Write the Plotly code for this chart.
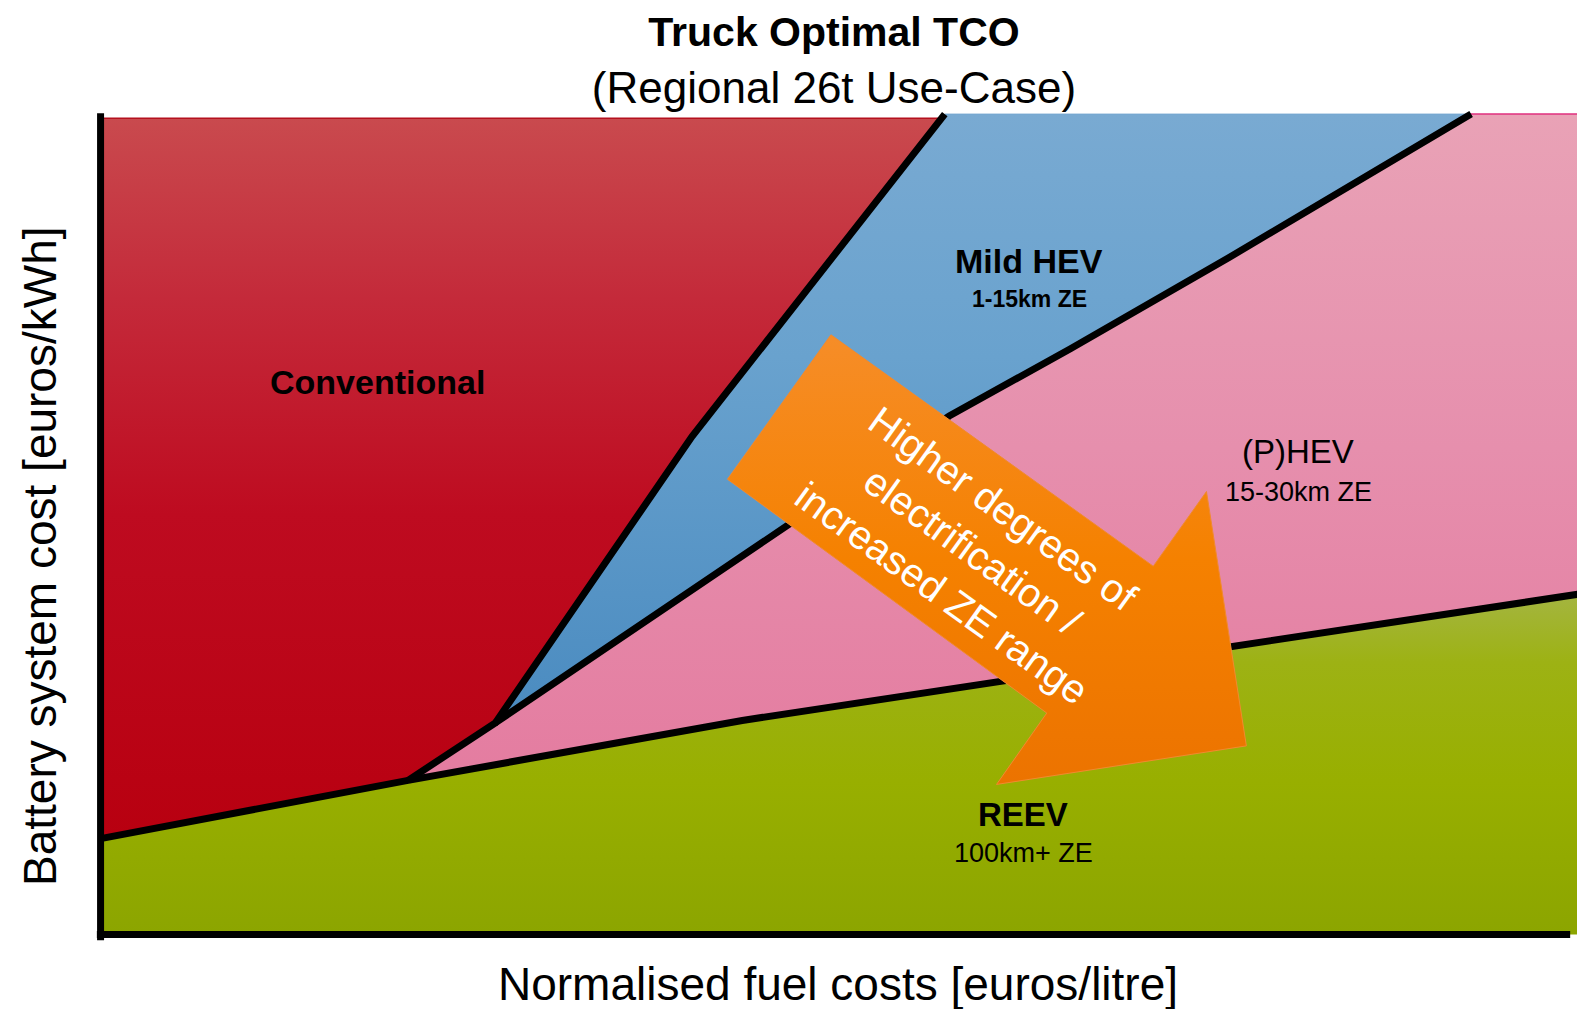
import plotly.graph_objects as go

# ---- Data (normalised units: fuel cost on x, battery system cost on y, 0-100) ----
# Boundary between REEV and the rest
reev_x = [0, 20.8, 43.4, 100]
reev_y = [11.7, 18.8, 26.1, 41.5]
# Boundary Conventional | electrified (starts at REEV kink)
conv_x = [20.8, 26.7, 40.0, 50.3, 57.1]
conv_y = [18.8, 25.8, 60.7, 84.3, 100]
# Boundary Mild HEV | (P)HEV (starts at conventional kink)
mild_x = [26.7, 40.5, 57.4, 65.6, 76.3, 92.7]
mild_y = [25.8, 42.6, 63.2, 71.4, 82.5, 100]
Y_TOP = 100
RED_TOP = 99.5
X_RIGHT = 100

# Direction arrow outline (tail -> head -> tip)
arrow_x = [49.4, 71.2, 74.8, 77.5, 60.6, 64.0, 42.4]
arrow_y = [73.1, 44.9, 54.0, 23.0, 18.3, 27.0, 55.5]

region_labels = ["Conventional", "Mild HEV", "(P)HEV", "REEV"]
region_sub = ["", "1-15km ZE", "15-30km ZE", "100km+ ZE"]
label_x = [18.7, 62.8, 81.0, 62.4]
label_y = [67.4, 82.1, 58.9, 14.6]
sub_y = [None, 77.5, 54.0, 9.9]

arrow_text = ["Higher degrees of", "electrification /", "increased ZE range"]

FONT = "Liberation Sans, Arial, sans-serif"

fig = go.Figure()

def area(xs, ys, scale, ymin, ymax, line_color=None, lw=0):
    fig.add_trace(go.Scatter(
        x=xs, y=ys, mode="lines", fill="toself",
        fillgradient=dict(type="vertical", colorscale=scale, start=ymin, stop=ymax),
        line=dict(color=line_color or "rgba(0,0,0,0)", width=lw),
        hoverinfo="skip", showlegend=False))

# Green (REEV)
gx = [0] + reev_x + [X_RIGHT]
gy = [0] + reev_y + [0]
area(gx, gy, [[0, "#8CA500"], [0.45, "#98AF00"], [0.8, "#9DB214"], [1, "#A4B540"]],
     0, reev_y[-1], "#A8BB30", 1.2)

# Red (Conventional)
rx = [0, reev_x[1]] + conv_x[1:] + [0]
ry = [reev_y[0], reev_y[1]] + [min(v, RED_TOP) for v in conv_y[1:]] + [RED_TOP]
area(rx, ry, [[0, "#B80010"], [0.45, "#BE0B20"], [0.75, "#C42A3A"], [1, "#C94A4E"]],
     reev_y[0], RED_TOP, "#B5101E", 1.5)

# Blue (Mild HEV)
bx = conv_x[1:] + [mild_x[-1]] + mild_x[::-1]
by = conv_y[1:] + [Y_TOP] + mild_y[::-1]
area(bx, by, [[0, "#4A8BC0"], [0.6, "#69A2CE"], [1, "#79AAD2"]],
     conv_y[1], Y_TOP, "#74A7D0", 1)

# Pink ((P)HEV)
px_ = [conv_x[0]] + mild_x + [X_RIGHT, X_RIGHT, reev_x[2], conv_x[0]]
py_ = [conv_y[0]] + mild_y + [Y_TOP, reev_y[-1], reev_y[2], conv_y[0]]
area(px_, py_, [[0, "#E47CA0"], [0.5, "#E68FAD"], [1, "#E9A2B6"]],
     conv_y[0], Y_TOP, "#E0307F", 1.5)

# Black boundary lines
for xs, ys in [(reev_x, reev_y), (conv_x, conv_y), (mild_x, mild_y)]:
    fig.add_trace(go.Scatter(x=xs, y=ys, mode="lines",
                             line=dict(color="black", width=7),
                             hoverinfo="skip", showlegend=False))

# Orange arrow
area(arrow_x + [arrow_x[0]], arrow_y + [arrow_y[0]],
     [[0, "#EC7300"], [0.5, "#F58100"], [1, "#F68D28"]],
     min(arrow_y), max(arrow_y), "#F08A30", 1)

# Axis lines
fig.add_shape(type="line", x0=0, x1=0, y0=-0.7, y1=100.1,
              line=dict(color="black", width=7), layer="above")
fig.add_shape(type="line", x0=-0.25, x1=99.4, y0=0, y1=0,
              line=dict(color="black", width=7), layer="above")

# Region labels
bold = [True, True, False, True]
sizes = [34, 34, 33, 33]
sub_sizes = [0, 23, 27, 27]
sub_bold = [False, True, False, False]
for i, lab in enumerate(region_labels):
    t = f"<b>{lab}</b>" if bold[i] else lab
    fig.add_annotation(x=label_x[i], y=label_y[i], text=t, showarrow=False,
                       font=dict(family=FONT, size=sizes[i], color="black"),
                       xanchor="center", yanchor="middle")
    if region_sub[i]:
        st = f"<b>{region_sub[i]}</b>" if sub_bold[i] else region_sub[i]
        fig.add_annotation(x=label_x[i], y=sub_y[i], text=st, showarrow=False,
                           font=dict(family=FONT, size=sub_sizes[i], color="black"),
                           xanchor="center", yanchor="middle")

# Arrow text
fig.add_annotation(x=59.0, y=46.8, text="<br>".join(arrow_text), showarrow=False,
                   textangle=35.7, font=dict(family=FONT, size=40, color="white"),
                   xanchor="center", yanchor="middle", align="center")

# Axis titles
fig.add_annotation(x=49.9, y=-0.039, xref="x", yref="paper",
                   text="Normalised fuel costs [euros/litre]", showarrow=False,
                   font=dict(family=FONT, size=46, color="black"),
                   xanchor="center", yanchor="middle")
fig.add_annotation(x=-0.0205, y=0.4697, xref="paper", yref="paper",
                   text="Battery system cost [euros/kWh]", showarrow=False,
                   textangle=-90, font=dict(family=FONT, size=46, color="black"),
                   xanchor="center", yanchor="middle")

fig.update_layout(
    width=1576, height=1001,
    margin=dict(l=63, r=2, t=102, b=58),
    paper_bgcolor="white", plot_bgcolor="white",
    title=dict(text="<span style='font-size:41px'><b>Truck Optimal TCO</b></span><br>(Regional 26t Use-Case)",
               x=0.5241, xanchor="center", y=0.9623, yref="container", yanchor="middle",
               font=dict(family=FONT, size=44, color="black")),
    xaxis=dict(range=[-2, 100.2], visible=False, fixedrange=True),
    yaxis=dict(range=[-2, 100.5], visible=False, fixedrange=True),
    showlegend=False,
)

fig.write_html("out.html")
